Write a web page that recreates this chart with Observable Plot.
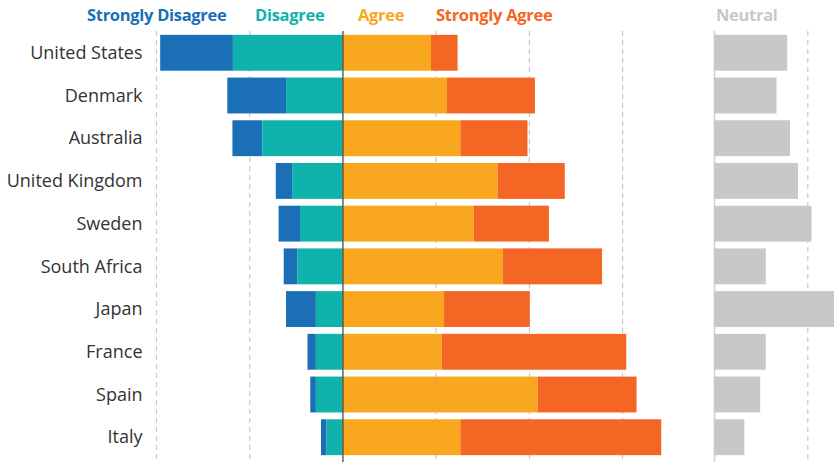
<!DOCTYPE html>
<html>
<head>
<meta charset="utf-8">
<script src="https://cdn.jsdelivr.net/npm/d3@7"></script>
<script src="https://cdn.jsdelivr.net/npm/@observablehq/plot@0.6"></script>
<style>
  html, body { margin: 0; padding: 0; background: #fff; overflow: hidden; }
  #chart { position: relative; width: 834px; height: 462px; font-family: "Open Sans", sans-serif; }
  #chart svg { position: absolute; top: 0; max-width: none; }
</style>
</head>
<body>
<div id="chart"></div>
<script>
// Survey responses by country (percent of respondents)
const countries = ["United States", "Denmark", "Australia", "United Kingdom", "Sweden",
                   "South Africa", "Japan", "France", "Spain", "Italy"];
const stronglyDisagree = [15.6, 12.6, 6.4, 3.5, 4.6, 2.9, 6.4, 1.8, 1.2, 1.2];
const disagree         = [23.5, 12.1, 17.2, 10.8, 9.1, 9.7, 5.7, 5.7, 5.7, 3.4];
const agree            = [19.0, 22.4, 25.3, 33.3, 28.2, 34.4, 21.8, 21.3, 41.9, 25.3];
const stronglyAgree    = [5.7, 18.9, 14.4, 14.4, 16.1, 21.3, 18.4, 39.6, 21.2, 43.1];
const neutral          = [15.7, 13.4, 16.3, 18.0, 20.9, 11.1, 26.5, 11.1, 9.9, 6.5];

const responses = ["Strongly Disagree", "Disagree", "Agree", "Strongly Agree"];
const colors = ["#1a6fb7", "#10b2ac", "#f9a71f", "#f46623"];
const neutralColor = "#c7c8ca";
const gridTicks = [-40, -20, 20, 40, 60];
const neutralTicks = [20];

// Long table: disagreement goes left of zero, agreement right
const rows = countries.flatMap((country, i) => [
  {country, response: "Strongly Disagree", value: -stronglyDisagree[i]},
  {country, response: "Disagree", value: -disagree[i]},
  {country, response: "Agree", value: agree[i]},
  {country, response: "Strongly Agree", value: stronglyAgree[i]}
]);
const neutralRows = countries.map((country, i) => ({country, value: neutral[i]}));

const font = "'Open Sans', sans-serif";
const ppu = 93.3 / 20;           // pixels per percentage point, shared by both panels
const xMin = -40, xMax = 78;
const marginTop = 28;
const yScale = {domain: countries, padding: 0.16, round: false, axis: null};
const dashed = {stroke: "#c9c9c9", strokeWidth: 1.2, strokeDasharray: "5,4", insetTop: 3};

const left = Plot.plot({
  width: Math.round(156 + (xMax - xMin) * ppu),
  height: 462,
  marginLeft: 156, marginRight: 0, marginTop, marginBottom: 0,
  x: {domain: [xMin, xMax], axis: null},
  y: yScale,
  color: {domain: responses, range: colors},
  style: {fontFamily: font, background: "transparent", overflow: "visible"},
  marks: [
    Plot.ruleX(gridTicks, dashed),
    Plot.barX(rows, Plot.stackX({
      x: "value", y: "country", fill: "response",
      order: ["Disagree", "Strongly Disagree", "Agree", "Strongly Agree"]
    })),
    Plot.ruleX([0], {stroke: "#3a3a3a", strokeWidth: 1.2, insetTop: 3}),
    Plot.axisY({tickSize: 0, tickPadding: 14, fontSize: 18, fill: "#333", label: null})
  ]
});

const right = Plot.plot({
  width: 130,
  height: 462,
  marginLeft: 10, marginRight: 0, marginTop, marginBottom: 0,
  x: {domain: [0, 120 / ppu], axis: null},
  y: yScale,
  style: {fontFamily: font, background: "transparent"},
  marks: [
    Plot.ruleX(neutralTicks, dashed),
    Plot.ruleX([0], {stroke: "#d0d0d0", strokeWidth: 1.6, insetTop: 3}),
    Plot.barX(neutralRows, {x: "value", y: "country", fill: neutralColor, clip: true})
  ]
});

const chart = document.getElementById("chart");
left.style.left = "0px";
right.style.left = "704px";
chart.append(left, right);

// Legend row across the top
const legendItems = [
  {label: "Strongly Disagree", color: colors[0], x: 87},
  {label: "Disagree", color: colors[1], x: 255},
  {label: "Agree", color: colors[2], x: 358},
  {label: "Strongly Agree", color: colors[3], x: 436},
  {label: "Neutral", color: neutralColor, x: 716}
];
const legend = d3.create("svg")
  .attr("width", 834).attr("height", 30)
  .style("left", "0px");
legend.selectAll("text")
  .data(legendItems)
  .join("text")
  .attr("x", d => d.x)
  .attr("y", 20.5)
  .attr("fill", d => d.color)
  .attr("font-family", font)
  .attr("font-weight", 700)
  .attr("font-size", 16.5)
  .attr("letter-spacing", -0.3)
  .text(d => d.label);
chart.append(legend.node());
</script>
</body>
</html>
